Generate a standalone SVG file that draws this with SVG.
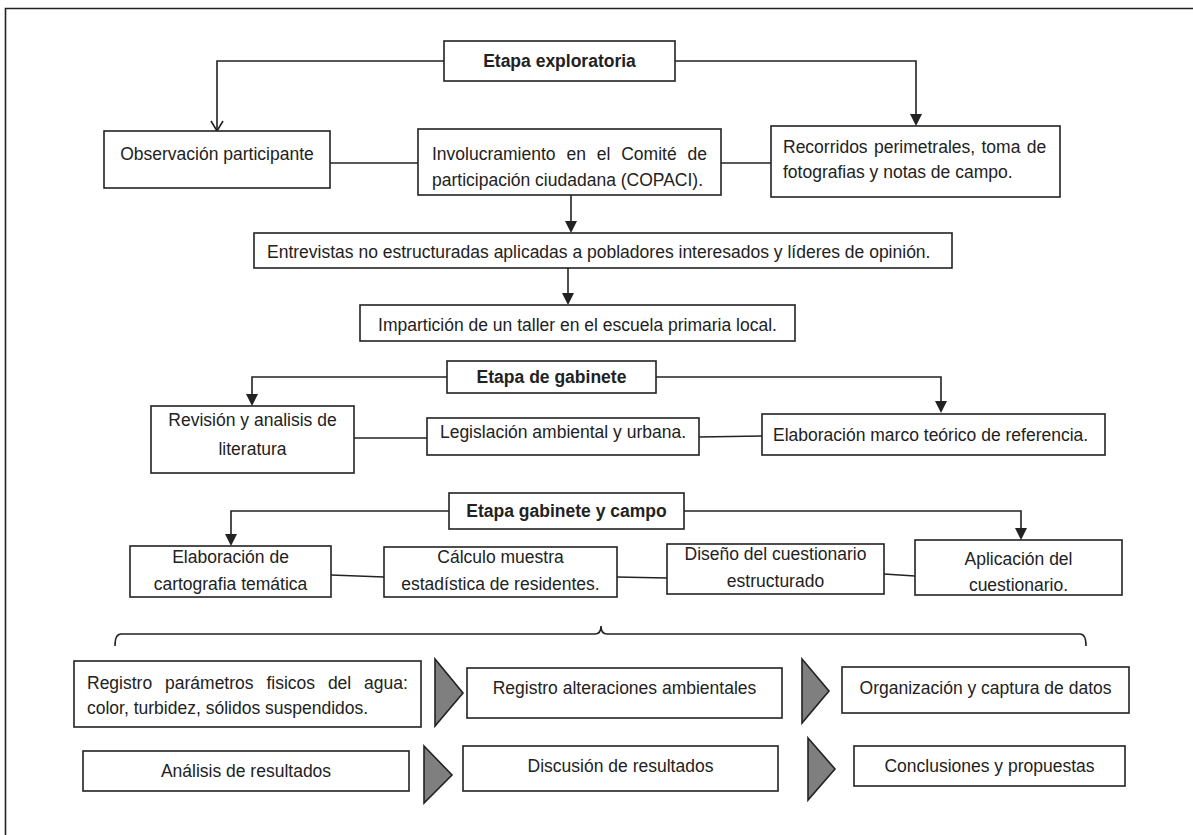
<svg xmlns="http://www.w3.org/2000/svg" width="1193" height="835" viewBox="0 0 1193 835">
<defs>
<style>
.box{fill:#fff;stroke:#222;stroke-width:1.6}
.t{font-family:"Liberation Sans",Arial,sans-serif;font-size:17.5px;fill:#222}
.c{text-anchor:middle}
.b{font-weight:bold}
.ln{fill:none;stroke:#222;stroke-width:1.6}
.chev{fill:#7f7f7f;stroke:#222;stroke-width:1.6;stroke-linejoin:miter}
</style>
<marker id="af" markerUnits="userSpaceOnUse" markerWidth="12" markerHeight="14" refX="6" refY="13" orient="auto-start-reverse" viewBox="0 0 12 14">
<path d="M0,0 L12,0 L6,13 z" fill="#222" transform="rotate(0)"/>
</marker>
</defs>
<rect width="1193" height="835" fill="#fff"/>
<g id="frame">
<path class="ln" d="M5.5,835 L5.5,8.5 L1193,8.5" stroke-width="2.4"/>
</g>
<g id="connectors">
<path class="ln" d="M444,61 L217,61 L217,131"/>
<path class="ln" d="M211,121 L217,131 L223,121"/>
<path class="ln" d="M675,61 L916,61 L916,114"/>
<path d="M910,114 L922,114 L916,126 z" fill="#222"/>
<path class="ln" d="M330,163 L418,163"/>
<path class="ln" d="M721,163 L771,163"/>
<path class="ln" d="M571,195 L571,221"/>
<path d="M565,221 L577,221 L571,233 z" fill="#222"/>
<path class="ln" d="M568,268 L568,293"/>
<path d="M562,293 L574,293 L568,305 z" fill="#222"/>
<path class="ln" d="M447,377 L252,377 L252,394"/>
<path d="M246,394 L258,394 L252,406 z" fill="#222"/>
<path class="ln" d="M656,377 L941,377 L941,401"/>
<path d="M935,401 L947,401 L941,413 z" fill="#222"/>
<path class="ln" d="M354,438 L427,438"/>
<path class="ln" d="M699,437 L762,436"/>
<path class="ln" d="M449,511 L231,511 L231,534"/>
<path d="M225,534 L237,534 L231,546 z" fill="#222"/>
<path class="ln" d="M684,511 L1021,511 L1021,528"/>
<path d="M1015,528 L1027,528 L1021,540 z" fill="#222"/>
<path class="ln" d="M331,575 L384,577"/>
<path class="ln" d="M617,577 L667,578"/>
<path class="ln" d="M884,574 L915,576"/>
<path class="ln" d="M115,646 Q115,634 121,634 L595,634 Q601,634 601,626 Q601,634 607,634 L1080,634 Q1086,634 1086,646"/>
<polygon class="chev" points="435,659 463,693 435,726"/>
<polygon class="chev" points="802,659 829,691 802,723"/>
<polygon class="chev" points="424,746 452,775 424,803"/>
<polygon class="chev" points="808,738 835,769 808,800"/>
</g>
<g id="n-exploratoria"><rect class="box" x="444" y="41" width="231" height="40"/><text class="t c b" x="559.5" y="67">Etapa exploratoria</text></g>
<g id="n-observacion"><rect class="box" x="104" y="131" width="226" height="57"/><text class="t c" x="217" y="160">Observación participante</text></g>
<g id="n-involucramiento"><rect class="box" x="418" y="129" width="303" height="66"/><text class="t" x="432" y="160" word-spacing="6">Involucramiento en el Comité de</text><text class="t" x="432" y="186">participación ciudadana (COPACI).</text></g>
<g id="n-recorridos"><rect class="box" x="771" y="126" width="289" height="71"/><text class="t" x="783" y="153" word-spacing="1.5">Recorridos perimetrales, toma de</text><text class="t" x="783" y="178">fotografias y notas de campo.</text></g>
<g id="n-entrevistas"><rect class="box" x="254" y="233" width="698" height="35"/><text class="t" x="267" y="258">Entrevistas no estructuradas aplicadas a pobladores interesados y líderes de opinión.</text></g>
<g id="n-imparticion"><rect class="box" x="360" y="305" width="435" height="36"/><text class="t c" x="577.5" y="331">Impartición de un taller en el escuela primaria local.</text></g>
<g id="n-gabinete"><rect class="box" x="447" y="361" width="209" height="32"/><text class="t c b" x="551.5" y="383">Etapa de gabinete</text></g>
<g id="n-revision"><rect class="box" x="151" y="406" width="203" height="67"/><text class="t c" x="252.5" y="426">Revisión y analisis de</text><text class="t c" x="252.5" y="455">literatura</text></g>
<g id="n-legislacion"><rect class="box" x="427" y="418" width="272" height="37"/><text class="t c" x="563" y="438">Legislación ambiental y urbana.</text></g>
<g id="n-marco"><rect class="box" x="762" y="414" width="343" height="41"/><text class="t" x="773" y="441">Elaboración marco teórico de referencia.</text></g>
<g id="n-gabcampo"><rect class="box" x="449" y="493" width="235" height="36"/><text class="t c b" x="566.5" y="517">Etapa gabinete y campo</text></g>
<g id="n-cartografia"><rect class="box" x="130" y="546" width="201" height="51"/><text class="t c" x="230.5" y="563">Elaboración de</text><text class="t c" x="230.5" y="590">cartografia temática</text></g>
<g id="n-calculo"><rect class="box" x="384" y="547" width="233" height="50"/><text class="t c" x="500.5" y="563">Cálculo muestra</text><text class="t c" x="500.5" y="590">estadística de residentes.</text></g>
<g id="n-diseno"><rect class="box" x="667" y="544" width="217" height="50"/><text class="t c" x="775.5" y="560">Diseño del cuestionario</text><text class="t c" x="775.5" y="587">estructurado</text></g>
<g id="n-aplicacion"><rect class="box" x="915" y="540" width="207" height="55"/><text class="t c" x="1018.5" y="565">Aplicación del</text><text class="t c" x="1018.5" y="591">cuestionario.</text></g>
<g id="n-parametros"><rect class="box" x="74" y="661" width="347" height="66"/><text class="t" x="87" y="689" word-spacing="8">Registro parámetros fisicos del agua:</text><text class="t" x="87" y="714">color, turbidez, sólidos suspendidos.</text></g>
<g id="n-alteraciones"><rect class="box" x="467" y="668" width="315" height="50"/><text class="t c" x="624.5" y="694">Registro alteraciones ambientales</text></g>
<g id="n-organizacion"><rect class="box" x="842" y="667" width="287" height="46"/><text class="t c" x="985.5" y="694">Organización y captura de datos</text></g>
<g id="n-analisis"><rect class="box" x="83" y="751" width="326" height="40"/><text class="t c" x="246" y="777">Análisis de resultados</text></g>
<g id="n-discusion"><rect class="box" x="463" y="746" width="315" height="45"/><text class="t c" x="620.5" y="772">Discusión de resultados</text></g>
<g id="n-conclusiones"><rect class="box" x="854" y="746" width="271" height="40"/><text class="t c" x="989.5" y="772">Conclusiones y propuestas</text></g>
</svg>
